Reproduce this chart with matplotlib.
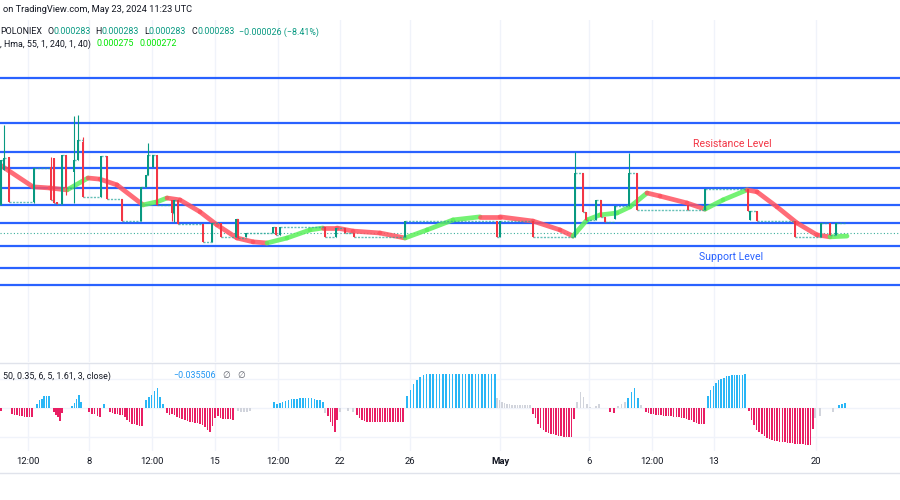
import numpy as np
import matplotlib.pyplot as plt
from matplotlib.collections import LineCollection
from matplotlib.lines import Line2D

plt.rcParams['font.family'] = ['Roboto', 'DejaVu Sans']

# x = slot on the chart's bar axis, prices in units of 1e-6
cdl_x = [1, 4, 9, 34, 51, 54, 57, 62, 66, 74, 78, 83, 101, 107, 122, 141, 146, 148, 153, 157,
         172, 174, 178, 203, 212, 221, 236, 238, 246, 273, 276, 280, 325, 336, 345, 354, 405,
         497, 500, 533, 575, 583, 586, 596, 601, 605, 615, 629, 637, 688, 705, 748, 750, 757,
         795, 821, 830, 836]
cdl_o = [356, 447, 481, 364, 455, 478, 364, 358, 486, 442, 473, 520, 377, 483, 371, 314, 403, 434, 455, 486,
         369, 335, 369, 306, 260, 309, 273, 319, 273, 283, 299, 278, 299, 273, 296, 283, 273,
         314, 273, 314, 273, 439, 338, 317, 369, 325, 319, 353, 439, 356, 343, 397, 317, 340,
         314, 273, 309, 278]
cdl_h = [473, 564, 481, 452, 481, 478, 364, 486, 486, 587, 590, 533, 483, 483, 371, 403, 434, 517, 486, 486,
         369, 369, 369, 306, 309, 309, 319, 319, 283, 299, 299, 299, 299, 296, 296, 283, 314,
         314, 314, 314, 494, 439, 338, 369, 369, 325, 353, 491, 439, 356, 397, 397, 340, 340,
         314, 309, 309, 309]
cdl_l = [356, 447, 364, 361, 369, 361, 358, 358, 382, 361, 473, 377, 377, 371, 314, 314, 403, 434, 455, 356,
         314, 312, 306, 260, 260, 273, 273, 270, 273, 283, 278, 278, 273, 273, 283, 273, 273,
         273, 273, 273, 273, 338, 317, 317, 325, 312, 319, 353, 343, 343, 343, 340, 317, 314,
         273, 273, 278, 278]
cdl_c = [473, 478, 364, 452, 369, 361, 358, 486, 400, 473, 525, 377, 483, 371, 314, 403, 434, 486, 486, 356,
         335, 369, 306, 260, 309, 273, 319, 270, 283, 299, 278, 299, 273, 296, 283, 273, 314,
         273, 314, 273, 439, 338, 317, 369, 325, 312, 353, 439, 343, 343, 397, 340, 340, 314,
         273, 309, 278, 309]
last_x = 846
last_price = 283

# Hull moving average (55)
hma_x = [0, 33, 50, 67, 88, 100, 117, 143, 157, 167, 180, 200, 217, 237, 253, 267, 287, 310, 323,
         337, 353, 380, 405, 427, 453, 480, 500, 533, 560, 573, 587, 600, 617, 630, 647, 660,
         687, 705, 723, 747, 757, 777, 797, 817, 830, 847]
hma_y = [460, 403, 400, 395, 426, 423, 408, 356, 364, 374, 369, 338, 304, 270, 260, 257, 270, 291, 296,
         296, 288, 283, 270, 291, 317, 325, 325, 314, 291, 275, 317, 330, 335, 351, 387, 379,
         361, 345, 369, 395, 390, 351, 309, 278, 273, 275]

levels = [686, 569, 494, 451, 399, 356, 308, 250, 193, 148]

# oscillator histogram runs: (first slot, last slot, colour, values x100)
osc_runs = [
    (1, 1, 'r', [-3]),
    (12, 32, 'r', [-6, -7, -7, -8, -8, -9, -9, -9, -9]),
    (37, 49, 'b', [4, 8, 9, 12, 12, 12]),
    (54, 62, 'r', [-4, -7, -9, -13, -5]),
    (72, 81, 'b', [2, 5, 9, 13, 6]),
    (89, 100, 'r', [-4, -6, -6, -8, -9]),
    (104, 104, 'b', [4]),
    (110, 142, 'r', [-4, -5, -6, -6, -7, -7, -9, -12, -14, -16, -16, -17, -18, -18]),
    (146, 163, 'b', [8, 11, 13, 17, 20, 11, 4]),
    (167, 233, 'r', [-5, -7, -6, -7, -9, -10, -11, -12, -13, -14, -14, -15, -15, -16, -17, -19,
                     -22, -24, -18, -10, -8, -10, -11, -11, -11, -11, -12]),
    (238, 250, 'g', [-3, -4, -4, -4, -3]),
    (274, 323, 'b', [6, 4, 5, 6, 7, 8, 9, 9, 9, 10, 10, 10, 10, 10, 9, 8, 8, 6]),
    (325, 325, 'g', [-5]),
    (328, 337, 'r', [-8, -14, -18, -24, -12]),
    (340, 340, 'g', [-4]),
    (348, 353, 'g', [-3, -4]),
    (357, 403, 'r', [-7, -10, -12, -13, -14, -14, -14, -14, -14, -14, -14, -14, -14, -14, -14,
                     -14, -14, -14, -14]),
    (407, 495, 'b', [12, 18, 24, 28, 31, 33, 34, 34, 34, 34, 34, 34, 34, 34, 34, 34, 34, 34, 34,
                     34, 34, 34, 34, 34, 34, 34, 34, 34]),
    (497, 530, 'g', [10, 8, 6, 5, 4, 4, 3, 3, 3, 3, 3, 3, 3, 3]),
    (533, 574, 'r', [-6, -10, -16, -20, -22, -24, -25, -26, -26, -27, -28, -28, -29, -29, -29,
                     -29, -11]),
    (577, 590, 'g', [6, 16, 11, 4, 1]),
    (596, 599, 'g', [2, 4]),
    (610, 614, 'r', [-4, -5]),
    (618, 625, 'g', [2, 4, 6]),
    (628, 638, 'b', [10, 16, 20, 10]),
    (641, 641, 'g', [3]),
    (646, 704, 'r', [-4, -5, -6, -6, -7, -7, -7, -8, -8, -8, -8, -9, -9, -9, -10, -10, -11,
                     -12, -12, -14, -15, -16, -16, -16]),
    (708, 745, 'b', [12, 18, 22, 25, 28, 29, 30, 32, 32, 33, 33, 33, 33, 33, 34]),
    (749, 813, 'r', [-3, -12, -17, -22, -24, -26, -28, -30, -31, -32, -33, -33, -34, -34, -34,
                     -35, -35, -35, -36, -36, -36, -36, -37, -37, -37, -21]),
    (815, 820, 'g', [-10, -8]),
    (833, 833, 'g', [-4]),
    (839, 845, 'b', [3, 4, 5]),
]

tick_pos = [28, 89, 152, 215, 278, 340, 410, 500, 589, 652, 714, 816]
tick_lab = ['12:00', '8', '12:00', '15', '12:00', '22', '26', 'May', '6', '12:00', '13', '20']

UP, DOWN = '#089981', '#f23645'
osc_col = {'b': '#29b6f6', 'r': '#e91e63', 'g': '#d1d4dc'}
TXT = '#131722'

W, H = 900, 500
fig = plt.figure(figsize=(9, 5), dpi=100)


def fy(py):
    return 1 - py / H


ax = fig.add_axes([0, fy(362), 1, (362 - 20) / H])
ax2 = fig.add_axes([0, fy(451), 1, (451 - 363) / H])
for a in (ax, ax2):
    a.set_xlim(0, W)
    for s in a.spines.values():
        s.set_visible(False)
    a.set_yticks([])
    a.set_xticks(tick_pos)
    a.grid(axis='x', color='#f0f3fa', lw=1)
    a.tick_params(axis='x', length=0)
ax.set_xticklabels([])

# price pane
ax.set_ylim(283 - 2.6 * 129, 283 + 2.6 * 213)
for lv in levels:
    ax.axhline(lv, color='#2962ff', lw=1.6, zorder=2)
ax.axhline(last_price, color=UP, lw=0.8, ls=(0, (1, 2)), alpha=0.8, zorder=2)

pts = np.column_stack([hma_x, hma_y])
segs = np.stack([pts[:-1], pts[1:]], axis=1)
seg_cols = ['#5cf05c' if b > a else '#ff5260' for a, b in zip(hma_y[:-1], hma_y[1:])]
ax.add_collection(LineCollection(segs, colors=seg_cols, linewidths=3.4, alpha=0.85,
                                 capstyle='round', zorder=3))

o = np.array(cdl_o)
c = np.array(cdl_c)
cols = [UP if cc >= oo else DOWN for oo, cc in zip(o, c)]
ax.vlines(cdl_x, cdl_l, cdl_h, colors=cols, lw=0.8, zorder=4)
ax.bar(cdl_x, np.maximum(np.abs(c - o), 1.5), bottom=np.minimum(o, c), width=2.2,
       color=cols, lw=0, zorder=4)
# flat (no trade) bars between candles
nxt = cdl_x[1:] + [last_x]
ax.hlines(cdl_c, cdl_x, nxt, colors='#26a69a', lw=1, ls=(0, (1.5, 1)), alpha=0.7, zorder=3)

ax.text(732, 514, 'Resistance Level', color=DOWN, fontsize=7.6, ha='center', va='center')
ax.text(731, 221, 'Support Level', color='#2962ff', fontsize=7.6, ha='center', va='center')

# oscillator pane
ax2.set_ylim(-43, 45)
for g in (-29, 0, 29):
    ax2.axhline(g, color='#f0f3fa', lw=1, zorder=0)
for x0, x1, k, vals in osc_runs:
    xs = np.linspace(x0, x1, len(vals))
    ax2.bar(xs, vals, width=1.5, color=osc_col[k], lw=0, zorder=2)
ax2.set_xticklabels(tick_lab, fontsize=6.8, color=TXT)
ax2.tick_params(axis='x', pad=4.5)
for lab in ax2.get_xticklabels():
    if lab.get_text() == 'May':
        lab.set_fontweight('bold')

fig.add_artist(Line2D([0, 1], [fy(363), fy(363)], color='#e0e3eb', lw=1))
fig.add_artist(Line2D([0, 1], [fy(473), fy(473)], color='#e0e3eb', lw=1))

# header text, laid out piece by piece
renderer = fig.canvas.get_renderer()


def row(px, py, pieces, size=6.4):
    for s, col, gap in pieces:
        t = fig.text(px / W, fy(py), s, color=col, fontsize=size, ha='left', va='center')
        px += t.get_window_extent(renderer).width + gap


row(3, 10, [('on TradingView.com, May 23, 2024 11:23 UTC', TXT, 0)], size=6.7)
row(0, 32, [('POLONIEX', TXT, 5), ('O', TXT, 0), ('0.000283', UP, 5),
            ('H', TXT, 0), ('0.000283', UP, 5), ('L', TXT, 0), ('0.000283', UP, 5),
            ('C', TXT, 0), ('0.000283', UP, 5), ('\u22120.000026 (\u22128.41%)', UP, 0)])
row(0, 44, [(', Hma, 55, 1, 240, 1, 40)', TXT, 6), ('0.000275', '#00e600', 5),
            ('0.000272', '#00e600', 0)])
row(3, 376, [('50, 0.35, 6, 5, 1.61, 3, close)', TXT, 0)])
row(173, 376, [('\u22120.035506', '#2196f3', 7), ('\u2205', '#5d606b', 7),
               ('\u2205', '#5d606b', 0)])

fig.savefig('out.png', dpi=100, facecolor='white')
